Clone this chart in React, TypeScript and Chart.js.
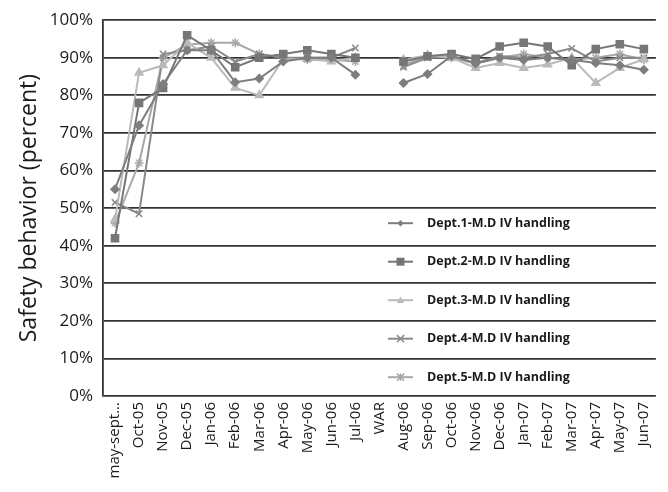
import React, { useEffect, useRef } from "react";
import { Chart, registerables } from "chart.js";

Chart.register(...registerables);

const categories = ["may-sept...", "Oct-05", "Nov-05", "Dec-05", "Jan-06", "Feb-06", "Mar-06", "Apr-06", "May-06", "Jun-06", "Jul-06", "WAR", "Aug-06", "Sep-06", "Oct-06", "Nov-06", "Dec-06", "Jan-07", "Feb-07", "Mar-07", "Apr-07", "May-07", "Jun-07"];

const dept1 = [55, 72, 83, 92, 92, 83.5, 84.5, 89, 90, 90, 85.5, null, 83.3, 85.7, 90.5, 88.5, 90, 89.4, 90, 89.5, 88.6, 88, 86.8];
const dept2 = [42, 78, 82, 96, 92, 87.5, 90, 91, 92, 91, 90, null, 89, 90.4, 91, 89.7, 93, 94, 93, 88, 92.3, 93.6, 92.3];
const dept3 = [47, 86, 88, 94, 90, 82, 80, 89.6, 89.7, 89, 90, null, 89.5, 90.7, 90, 87.3, 88.6, 87.3, 88.2, 90, 83.3, 87.3, 89.6];
const dept4 = [51.5, 48.5, 91, 92, 93, 89, 91, 90, 90, 90, 92.6, null, 87.5, 90, 90.5, 88.6, 90.5, 90, 91, 92.5, 89, 90, 90];
const dept5 = [46, 62, 90, 93.5, 94, 94, 91, 90, 89.5, 89.5, 89, null, 88, 90.5, 90, 88.5, 90, 91, 90, 89.5, 90, 91, 89.5];

const seriesNames = ["Dept.1-M.D IV handling", "Dept.2-M.D IV handling", "Dept.3-M.D IV handling", "Dept.4-M.D IV handling", "Dept.5-M.D IV handling"];
const yTicks = [0, 10, 20, 30, 40, 50, 60, 70, 80, 90, 100];

const styles = [
  { color: "#7e7e7e", point: "rectRot", radius: 4 },
  { color: "#767676", point: "rect", radius: 5 },
  { color: "#bababa", point: "triangle", radius: 4.5 },
  { color: "#8a8a8a", point: "crossRot", radius: 4.5 },
  { color: "#a8a8a8", point: "star", radius: 4.5 },
];

const FONT = "'Open Sans', sans-serif";

function drawPoint(ctx: CanvasRenderingContext2D, style: string, r: number, x: number, y: number) {
  ctx.beginPath();
  if (style === "rect") {
    ctx.rect(x - r, y - r, 2 * r, 2 * r);
    ctx.fill();
  } else if (style === "rectRot") {
    ctx.moveTo(x, y - r);
    ctx.lineTo(x + r, y);
    ctx.lineTo(x, y + r);
    ctx.lineTo(x - r, y);
    ctx.closePath();
    ctx.fill();
  } else if (style === "triangle") {
    ctx.moveTo(x, y - r);
    ctx.lineTo(x + r, y + r * 0.8);
    ctx.lineTo(x - r, y + r * 0.8);
    ctx.closePath();
    ctx.fill();
  } else if (style === "crossRot") {
    ctx.moveTo(x - r, y - r);
    ctx.lineTo(x + r, y + r);
    ctx.moveTo(x + r, y - r);
    ctx.lineTo(x - r, y + r);
    ctx.stroke();
  } else {
    ctx.moveTo(x - r, y - r);
    ctx.lineTo(x + r, y + r);
    ctx.moveTo(x + r, y - r);
    ctx.lineTo(x - r, y + r);
    ctx.moveTo(x, y - r);
    ctx.lineTo(x, y + r);
    ctx.stroke();
  }
}

const legendPlugin = {
  id: "insideLegend",
  afterDraw(chart: any) {
    const ctx = chart.ctx;
    const area = chart.chartArea;
    ctx.save();
    const lineX0 = area.left + 285;
    const lineX1 = area.left + 310;
    const textX = area.left + 324;
    const startY = area.top + 203;
    const step = 38.5;
    chart.data.datasets.forEach((ds: any, i: number) => {
      const y = startY + i * step;
      ctx.strokeStyle = ds.borderColor;
      ctx.lineWidth = 2;
      ctx.beginPath();
      ctx.moveTo(lineX0, y);
      ctx.lineTo(lineX1, y);
      ctx.stroke();
      ctx.fillStyle = ds.pointBackgroundColor;
      ctx.strokeStyle = ds.pointBorderColor;
      ctx.lineWidth = 1.5;
      drawPoint(ctx, ds.pointStyle, ds.pointRadius * 0.8, (lineX0 + lineX1) / 2, y);
      ctx.fillStyle = "#1a1a1a";
      ctx.font = "bold 12.5px " + FONT;
      ctx.textBaseline = "middle";
      ctx.textAlign = "left";
      ctx.fillText(ds.label, textX, y);
    });
    ctx.restore();
  },
};

export default function App() {
  const ref = useRef<HTMLCanvasElement>(null);
  useEffect(() => {
    if (!ref.current) return;
    const all = [dept1, dept2, dept3, dept4, dept5];
    const chart = new Chart(ref.current, {
      type: "line",
      data: {
        labels: categories,
        datasets: all.map((d, i) => ({
          label: seriesNames[i],
          data: d,
          borderColor: styles[i].color,
          backgroundColor: styles[i].color,
          pointBackgroundColor: styles[i].color,
          pointBorderColor: styles[i].color,
          pointStyle: styles[i].point as any,
          pointRadius: styles[i].radius,
          pointBorderWidth: 1.5,
          borderWidth: 2,
          spanGaps: false,
          tension: 0,
        })),
      },
      options: {
        animation: false,
        responsive: false,
        devicePixelRatio: 1,
        layout: { padding: { top: 19, right: 1, left: 0, bottom: 0 } },
        plugins: {
          legend: { display: false },
          tooltip: { enabled: false },
        },
        scales: {
          x: {
            offset: true,
            grid: { display: false, drawTicks: false },
            border: { display: false },
            ticks: {
              autoSkip: false,
              minRotation: 90,
              maxRotation: 90,
              padding: 6,
              color: "#1a1a1a",
              font: { family: FONT, size: 15 },
            },
            afterFit(scale: any) {
              scale.height = 96;
            },
          },
          y: {
            min: 0,
            max: 100,
            afterBuildTicks(scale: any) {
              scale.ticks = yTicks.map((v) => ({ value: v }));
            },
            grid: { color: "#333333", lineWidth: 1.8, drawTicks: false },
            border: { display: true, color: "#333333", width: 1.8 },
            ticks: {
              padding: 10,
              color: "#1a1a1a",
              font: { family: FONT, size: 17 },
              callback: (v: any) => v + "%",
            },
            title: {
              display: true,
              text: "Safety behavior (percent)",
              color: "#1a1a1a",
              font: { family: FONT, size: 23 },
              padding: { top: 16, bottom: 0 },
            },
            afterFit(scale: any) {
              scale.width = 103;
            },
          },
        },
      },
      plugins: [legendPlugin],
    });
    return () => chart.destroy();
  }, []);
  return (
    <div style={{ position: "fixed", left: 0, top: 0, width: 668, height: 492, background: "#fff" }}>
      <canvas ref={ref} width={668} height={492} style={{ display: "block" }} />
    </div>
  );
}
